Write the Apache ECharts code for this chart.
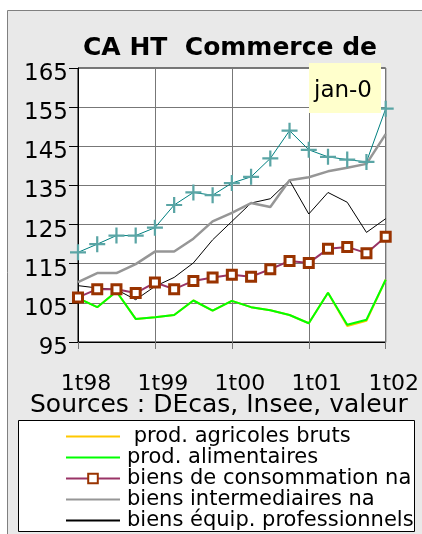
<!DOCTYPE html>
<html>
<head>
<meta charset="utf-8">
<script src="https://cdn.jsdelivr.net/npm/echarts@6/dist/echarts.min.js"></script>
<style>
html,body{margin:0;padding:0;background:#fff;}
#chart{width:422px;height:534px;}
</style>
</head>
<body>
<div id="chart"></div>
<script>
var categories = ['1t98','2t98','3t98','4t98','1t99','2t99','3t99','4t99','1t00','2t00','3t00','4t00','1t01','2t01','3t01','4t01','1t02'];
var yTicks = {min: 95, max: 165, interval: 10};
var agricoles = [106.2, 103.9, 107.9, 100.9, 101.3, 101.9, 105.6, 103.0, 105.5, 103.9, 103.1, 101.9, 99.8, 107.6, 99.1, 100.4, 110.9];
var alimentaires = [106.2, 103.9, 107.9, 100.9, 101.3, 101.9, 105.6, 103.0, 105.5, 103.9, 103.1, 101.9, 99.8, 107.6, 99.4, 100.7, 110.9];
var consommation = [106.4, 108.5, 108.5, 107.5, 110.2, 108.5, 110.6, 111.5, 112.2, 111.7, 113.6, 115.7, 115.2, 118.8, 119.3, 117.7, 121.9];
var intermediaires = [110.3, 112.6, 112.6, 114.9, 118.1, 118.1, 121.4, 125.8, 128.0, 130.5, 129.5, 136.3, 137.1, 138.6, 139.5, 140.5, 148.1];
var equipement = [109.4, 108.8, 108.4, 105.8, 109.2, 111.5, 115.2, 121.1, 125.8, 130.5, 131.6, 136.3, 127.7, 133.2, 130.7, 123.0, 126.5];
var ensemble = [117.9, 120.0, 122.2, 122.2, 124.2, 130.0, 133.2, 132.5, 135.6, 137.2, 141.9, 149.0, 144.1, 142.3, 141.6, 141.0, 154.6];
var seriesNames = [' prod. agricoles bruts', 'prod. alimentaires', 'biens de consommation na', 'biens intermediaires na', 'biens équip. professionnels', 'Services T'];
var titleText = 'CA HT  Commerce de';
var sourceText = 'Sources : DEcas, Insee, valeur';
var noteText = 'jan-02';

var FONT = 'DejaVu Sans';
var chart = echarts.init(document.getElementById('chart'), null, {renderer: 'canvas'});
var plusPath = 'path://M0,4.3H10V5.7H0Z M4.3,0H5.7V10H4.3Z';
var hideSym = {opacity: 0};

chart.setOption({
  animation: false,
  backgroundColor: '#fff',
  textStyle: {fontFamily: FONT},
  title: {
    text: titleText, left: 83, top: 36, padding: 0,
    textStyle: {fontFamily: FONT, fontSize: 25, fontWeight: 'bold', color: '#000'}
  },
  grid: {
    left: 78, right: 35, top: 68, bottom: 192,
    show: true, backgroundColor: '#fff', borderColor: '#000', borderWidth: 1
  },
  legend: {
    orient: 'vertical', left: 65, top: 426, padding: 0,
    itemWidth: 54, itemHeight: 12, itemGap: 0,
    data: [
      {name: seriesNames[0], itemStyle: hideSym},
      {name: seriesNames[1], itemStyle: hideSym},
      {name: seriesNames[2]},
      {name: seriesNames[3], itemStyle: hideSym},
      {name: seriesNames[4], itemStyle: hideSym}
    ],
    textStyle: {fontFamily: FONT, fontSize: 21, lineHeight: 20, color: '#000', padding: [0,0,0,2]}
  },
  xAxis: {
    type: 'category', data: categories, boundaryGap: false,
    axisLine: {lineStyle: {color: '#000', width: 1}},
    axisTick: {show: true, interval: 3, length: 7, lineStyle: {color: '#777'}},
    splitLine: {show: true, interval: 3, lineStyle: {color: '#777', width: 1}},
    axisLabel: {interval: 3, margin: 31, fontSize: 22, color: '#000', fontFamily: FONT, padding: [0,0,0,16]}
  },
  yAxis: {
    type: 'value', min: yTicks.min, max: yTicks.max, interval: yTicks.interval,
    axisLine: {show: true, lineStyle: {color: '#000', width: 1}},
    axisTick: {show: true, length: 9, lineStyle: {color: '#000'}},
    splitLine: {show: true, lineStyle: {color: '#777', width: 1}},
    axisLabel: {
      margin: 10, color: '#000',
      formatter: '{v|{value}}',
      rich: {v: {fontSize: 23, fontFamily: FONT, color: '#000', padding: [12, 0, 0, 0]}}
    }
  },
  series: [
    {name: seriesNames[0], type: 'line', data: agricoles, symbol: 'none', lineStyle: {color: '#ffc800', width: 2}, itemStyle: {color: '#ffc800'}, z: 2},
    {name: seriesNames[1], type: 'line', data: alimentaires, symbol: 'none', lineStyle: {color: '#00ff00', width: 2}, itemStyle: {color: '#00ff00'}, z: 3},
    {name: seriesNames[4], type: 'line', data: equipement, symbol: 'none', lineStyle: {color: '#000', width: 1}, itemStyle: {color: '#000'}, z: 4},
    {name: seriesNames[3], type: 'line', data: intermediaires, symbol: 'none', lineStyle: {color: '#969696', width: 2.5}, itemStyle: {color: '#969696'}, z: 4},
    {name: seriesNames[5], type: 'line', data: ensemble, symbol: plusPath, symbolSize: 16, showAllSymbol: true, lineStyle: {color: '#008080', width: 1}, itemStyle: {color: '#5aa5a5', borderWidth: 0}, z: 5},
    {name: seriesNames[2], type: 'line', data: consommation, symbol: 'rect', symbolSize: 9, showAllSymbol: true, lineStyle: {color: '#993366', width: 2}, itemStyle: {color: '#fff', borderColor: '#993300', borderWidth: 3}, z: 6}
  ],
  graphic: [
    {type: 'rect', silent: true, z: -10, shape: {x: 7.5, y: 10.5, width: 420, height: 530}, style: {fill: '#e9e9e9', stroke: '#808080', lineWidth: 1}},
    {type: 'rect', silent: true, z: -9, shape: {x: 18.5, y: 420.5, width: 396, height: 111}, style: {fill: '#fff', stroke: '#000', lineWidth: 1}},
    {type: 'text', silent: true, z: 10, x: 30, y: 405, style: {text: sourceText, fontFamily: FONT, fontSize: 25, fill: '#000', verticalAlign: 'middle'}},
    {type: 'rect', silent: true, z: 20, shape: {x: 309, y: 63, width: 72, height: 50}, style: {fill: '#ffffcc'}},
    {type: 'text', silent: true, z: 21, x: 314, y: 91, style: {text: noteText, fontFamily: FONT, fontSize: 23, fill: '#000', verticalAlign: 'middle', width: 66, overflow: 'truncate', ellipsis: ''}}
  ]
});
</script>
</body>
</html>
